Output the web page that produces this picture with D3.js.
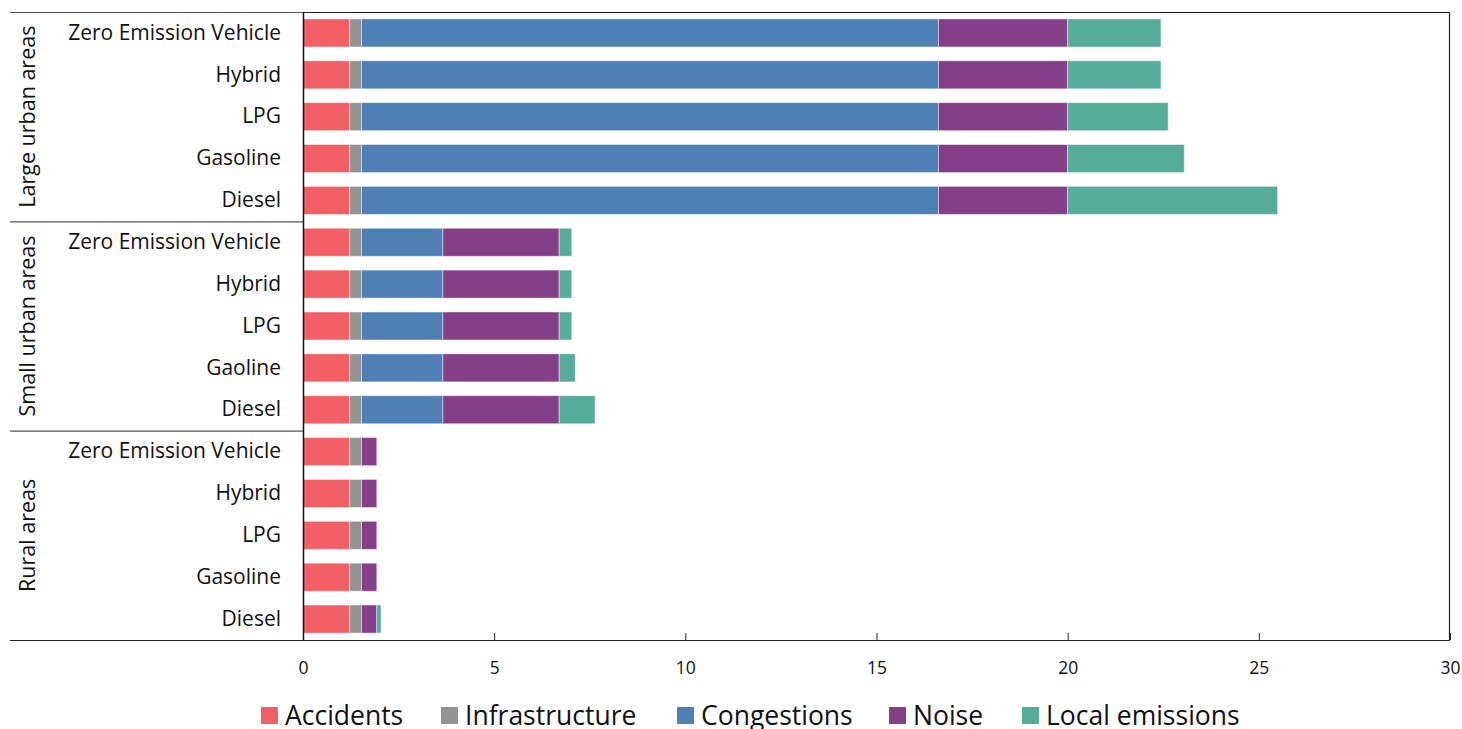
<!DOCTYPE html>
<html>
<head>
<meta charset="utf-8">
<script src="https://cdn.jsdelivr.net/npm/d3@7"></script>
<style>
  body { margin: 0; background: #fff; }
  text { font-family: "Open Sans", "Noto Sans", sans-serif; fill: #111; }
</style>
</head>
<body>
<div class="chart"></div>
<script>
// external costs per vehicle type and area
var areas = ["Large urban areas", "Small urban areas", "Rural areas"];
var vehicles = [
  ["Zero Emission Vehicle", "Hybrid", "LPG", "Gasoline", "Diesel"],
  ["Zero Emission Vehicle", "Hybrid", "LPG", "Gaoline", "Diesel"],
  ["Zero Emission Vehicle", "Hybrid", "LPG", "Gasoline", "Diesel"]
];
var series = ["Accidents", "Infrastructure", "Congestions", "Noise", "Local emissions"];

// values per row, top to bottom (15 rows)
var data_accidents = [1.22, 1.22, 1.22, 1.22, 1.22, 1.22, 1.22, 1.22, 1.22, 1.22, 1.22, 1.22, 1.22, 1.22, 1.22];
var data_infra = [0.31, 0.31, 0.31, 0.31, 0.31, 0.31, 0.31, 0.31, 0.31, 0.31, 0.31, 0.31, 0.31, 0.31, 0.31];
var data_congestion = [15.09, 15.09, 15.09, 15.09, 15.09, 2.13, 2.13, 2.13, 2.13, 2.13, 0, 0, 0, 0, 0];
var data_noise = [3.38, 3.38, 3.38, 3.38, 3.38, 3.04, 3.04, 3.04, 3.04, 3.04, 0.40, 0.40, 0.40, 0.40, 0.40];
var data_local = [2.44, 2.44, 2.63, 3.05, 5.49, 0.33, 0.33, 0.33, 0.42, 0.94, 0, 0, 0, 0, 0.11];

var xTicks = [0, 5, 10, 15, 20, 25, 30];
var color = ["#f25f64", "#939393", "#4f80b5", "#843f88", "#55ac98"];

var W = 1462, H = 729;
var mLeft = 303, mRight = 1450, mTop = 12, mBottom = 640;

var rows = [];
areas.forEach(function(a, gi) {
  vehicles[gi].forEach(function(v, vi) {
    var i = rows.length;
    rows.push({ key: gi + "-" + vi, area: a, label: v,
      vals: [data_accidents[i], data_infra[i], data_congestion[i], data_noise[i], data_local[i]] });
  });
});

var svg = d3.select(".chart").append("svg")
  .attr("width", W).attr("height", H);

var x = d3.scaleLinear().domain([0, 30]).range([mLeft, mRight]);
var y = d3.scaleBand().domain(rows.map(function(d) { return d.key; }))
  .range([mTop, mBottom]).paddingInner(0.33).paddingOuter(0.165);

// frame
svg.append("line").attr("x1", mLeft).attr("x2", mRight).attr("y1", mTop + 0.5).attr("y2", mTop + 0.5)
  .style("stroke", "#222").style("stroke-width", 1);
svg.append("line").attr("x1", mRight - 0.5).attr("x2", mRight - 0.5).attr("y1", mTop).attr("y2", mBottom)
  .style("stroke", "#222").style("stroke-width", 1.2);

// bars
var stack = d3.stack().keys(d3.range(5)).value(function(d, k) { return d.vals[k]; });
var layers = stack(rows);
layers.forEach(function(layer, k) {
  svg.append("g").selectAll("rect").data(layer).join("rect")
    .attr("x", function(d) { return x(d[0]); })
    .attr("y", function(d) { return y(d.data.key); })
    .attr("width", function(d) { return x(d[1]) - x(d[0]); })
    .attr("height", y.bandwidth())
    .attr("fill", color[k])
    .attr("stroke", function(d) { return d[1] - d[0] > 0 ? "rgba(255,255,255,0.45)" : "none"; })
    .attr("stroke-width", 1);
});

// x axis
var xAxis = d3.axisBottom(x).tickValues(xTicks).tickSize(-7).tickPadding(22);
var gx = svg.append("g").attr("transform", "translate(0," + mBottom + ")").call(xAxis);
gx.select(".domain").remove();
gx.selectAll(".tick line").style("stroke", "#222");
gx.selectAll("text").style("font-size", "17.5px").attr("fill", "#111")
  .style("font-family", "'Open Sans', 'Noto Sans', sans-serif");

// y axis with row labels
var yAxis = d3.axisLeft(y).tickSize(0).tickPadding(22)
  .tickFormat(function(k) { return rows.find(function(r) { return r.key === k; }).label; });
var gy = svg.append("g").attr("transform", "translate(" + mLeft + ",0)").call(yAxis);
gy.select(".domain").remove();
gy.selectAll("text").style("font-size", "21px").attr("fill", "#111")
  .style("font-family", "'Open Sans', 'Noto Sans', sans-serif");

svg.append("line").attr("x1", mLeft + 0.5).attr("x2", mLeft + 0.5).attr("y1", mTop).attr("y2", mBottom + 1)
  .style("stroke", "#111").style("stroke-width", 1.5);

// group separators and labels
var groupH = (mBottom - mTop) / areas.length;
areas.forEach(function(a, gi) {
  var y0 = mTop + gi * groupH;
  svg.append("line").attr("x1", 10).attr("x2", mLeft).attr("y1", y0 + 0.5).attr("y2", y0 + 0.5)
    .style("stroke", "#555").style("stroke-width", 1.2);
  svg.append("text")
    .attr("transform", "translate(35," + (y0 + groupH / 2) + ") rotate(-90)")
    .attr("text-anchor", "middle")
    .style("font-size", "21.5px")
    .text(a);
});
svg.append("line").attr("x1", 10).attr("x2", mRight).attr("y1", mBottom + 0.5).attr("y2", mBottom + 0.5)
  .style("stroke", "#222").style("stroke-width", 1.2);

// legend
var legendX = [261, 441, 677, 889, 1022];
for (var i = 0; i < series.length; i++) {
  svg.append("rect")
    .attr("x", legendX[i]).attr("y", 707)
    .attr("width", 17).attr("height", 17)
    .attr("fill", color[i]);
  svg.append("text")
    .attr("x", legendX[i] + 24).attr("y", 725)
    .style("font-size", "26.5px")
    .text(series[i]);
}
</script>
</body>
</html>
